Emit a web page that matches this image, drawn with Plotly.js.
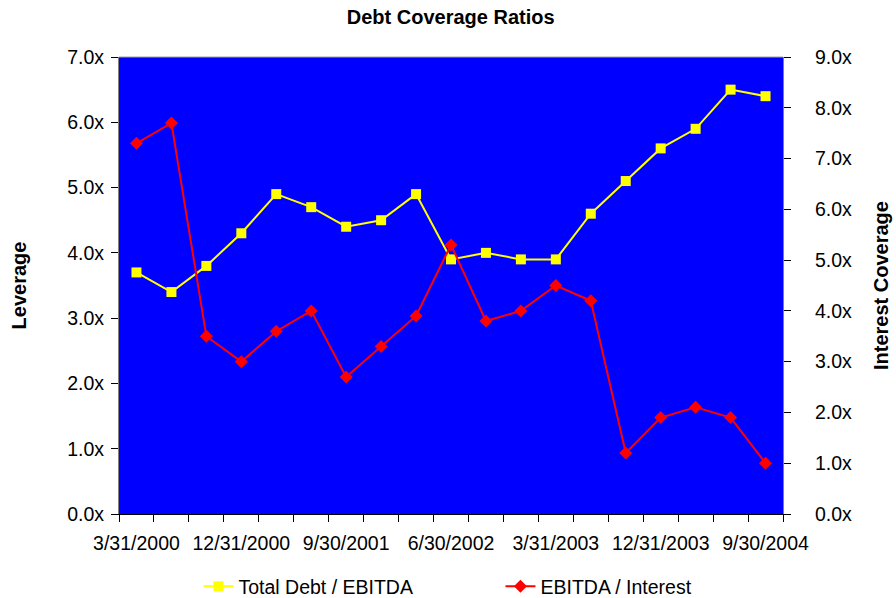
<!DOCTYPE html>
<html>
<head>
<meta charset="utf-8">
<script src="https://cdn.plot.ly/plotly-3.0.1.min.js"></script>
<style>html,body{margin:0;padding:0;background:#fff;}#chart{width:896px;height:598px;}</style>
</head>
<body>
<div id="chart"></div>
<script>
const quarters = ["3/31/2000","6/30/2000","9/30/2000","12/31/2000","3/31/2001","6/30/2001","9/30/2001","12/31/2001","3/31/2002","6/30/2002","9/30/2002","12/31/2002","3/31/2003","6/30/2003","9/30/2003","12/31/2003","3/31/2004","6/30/2004","9/30/2004"];
const shownLabels = ["3/31/2000","12/31/2000","9/30/2001","6/30/2002","3/31/2003","12/31/2003","9/30/2004"];
const leverage = [3.7,3.4,3.8,4.3,4.9,4.7,4.4,4.5,4.9,3.9,4.0,3.9,3.9,4.6,5.1,5.6,5.9,6.5,6.4];
const interestCoverage = [7.3,7.7,3.5,3.0,3.6,4.0,2.7,3.3,3.9,5.3,3.8,4.0,4.5,4.2,1.2,1.9,2.1,1.9,1.0];

const font = "Arial, 'Liberation Sans', sans-serif";
const fs = 19.5;
const traces = [
  {x: quarters, y: leverage, name: "Total Debt / EBITDA", type: "scatter", mode: "lines+markers",
   line: {color: "#FFFF00", width: 2}, marker: {symbol: "square", size: 10, color: "#FFFF00"}},
  {x: quarters, y: interestCoverage, name: "EBITDA / Interest", type: "scatter", mode: "lines+markers",
   yaxis: "y2", line: {color: "#FF0000", width: 2}, marker: {symbol: "diamond", size: 10, color: "#FF0000"}}
];
const layout = {
  width: 896, height: 598,
  margin: {l: 119, r: 113, t: 57, b: 84},
  paper_bgcolor: "#ffffff", plot_bgcolor: "#0000FF",
  font: {family: font, size: fs, color: "#000"},
  title: {text: "<b>Debt Coverage Ratios</b>", font: {family: font, size: 20, color: "#000"},
          x: 0.503, xanchor: "center", y: 0.972, yanchor: "middle", yref: "container"},
  showlegend: true,
  legend: {orientation: "h", x: 0.5745, xanchor: "center", yref: "container", y: 0.019, yanchor: "middle",
           font: {family: font, size: fs}, entrywidth: 257, entrywidthmode: "pixels",
           bgcolor: "rgba(0,0,0,0)"},
  xaxis: {type: "category", range: [-0.5, 18.5], tickmode: "array", tickvals: quarters,
          ticktext: quarters.map(q => shownLabels.includes(q) ? q : ""),
          tickson: "boundaries", ticks: "outside", ticklen: 7, tickcolor: "#000", tickwidth: 1,
          tickangle: 0, ticklabelstandoff: 12,
          showline: true, linecolor: "#000", linewidth: 1, showgrid: false, zeroline: false,
          tickfont: {family: font, size: fs}},
  yaxis: {range: [0, 7], dtick: 1, tick0: 0, tickformat: ".1f", ticksuffix: "x",
          ticks: "outside", ticklen: 7, tickcolor: "#000", ticklabelstandoff: 3,
          showline: true, linecolor: "#808080", linewidth: 1, showgrid: false, zeroline: false,
          tickfont: {family: font, size: fs},
          title: {text: "<b>Leverage</b>", font: {family: font, size: 20}, standoff: 35}},
  yaxis2: {range: [0, 9], dtick: 1, tick0: 0, tickformat: ".1f", ticksuffix: "x",
           overlaying: "y", side: "right",
           ticks: "outside", ticklen: 7, tickcolor: "#000", ticklabelstandoff: 20,
           showline: true, linecolor: "#808080", linewidth: 1, showgrid: false, zeroline: false,
           tickfont: {family: font, size: fs},
           title: {text: "<b>Interest Coverage</b>", font: {family: font, size: 20}, standoff: 22}},
  shapes: [{type: "line", xref: "paper", yref: "paper", x0: 0, x1: 1, y0: 1, y1: 1,
            line: {color: "#a0a0a0", width: 1}}]
};
Plotly.newPlot("chart", traces, layout, {displayModeBar: false, staticPlot: true});
</script>
</body>
</html>
